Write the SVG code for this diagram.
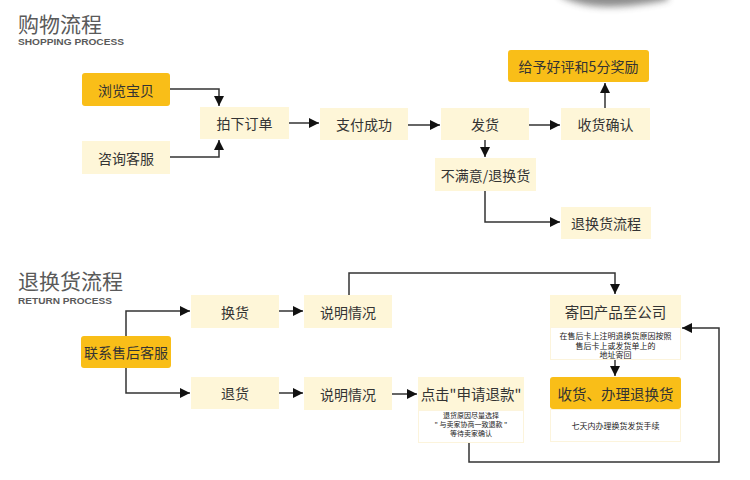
<svg xmlns="http://www.w3.org/2000/svg" width="750" height="480" viewBox="0 0 750 480">
<style>
.t{font-family:"Noto Sans CJK SC","Liberation Sans",sans-serif;fill:#333;text-anchor:middle;dominant-baseline:central}
.n{font-size:14px}
.b{font-size:14.5px}
.s{font-size:7px;fill:#222}
.h{font-family:"Noto Sans CJK SC",sans-serif;font-size:21px;fill:#5a5a5a}
.e{font-family:"Liberation Sans",Arial,sans-serif;font-size:9.2px;font-weight:bold;fill:#5a5a5a}
.o{fill:#F9BE18}
.y{fill:#FEF6D8}
.w{fill:#fff;stroke:#FCF4DC;stroke-width:1}
.c{fill:none;stroke:#333;stroke-width:1.5}
</style>
<defs>
<marker id="a" viewBox="0 0 10 10" refX="10" refY="5" markerWidth="10" markerHeight="10" markerUnits="userSpaceOnUse" orient="auto">
<path d="M0,0L10,5L0,10z" fill="#111"/>
</marker>
<filter id="bl" x="-30%" y="-150%" width="160%" height="400%"><feGaussianBlur stdDeviation="3.5"/></filter>
</defs>
<rect width="750" height="480" fill="#fff"/>
<path d="M560,-4C585,9 615,10 668,0L668,-10L560,-10z" fill="#808080" filter="url(#bl)" opacity="0.9"/>

<text class="h" x="18" y="32">购物流程</text>
<text class="e" x="18" y="44.5" textLength="106" lengthAdjust="spacingAndGlyphs">SHOPPING PROCESS</text>
<text class="h" x="18" y="289">退换货流程</text>
<text class="e" x="18" y="303.5" textLength="94" lengthAdjust="spacingAndGlyphs">RETURN PROCESS</text>

<g id="connectors">
<path class="c" d="M170,89H219V106" marker-end="url(#a)"/>
<path class="c" d="M170,157H219V140" marker-end="url(#a)"/>
<path class="c" d="M289,123H319" marker-end="url(#a)"/>
<path class="c" d="M408,125H440" marker-end="url(#a)"/>
<path class="c" d="M529,125H560" marker-end="url(#a)"/>
<path class="c" d="M605,108V83" marker-end="url(#a)"/>
<path class="c" d="M485,140V157" marker-end="url(#a)"/>
<path class="c" d="M485,191V222H560" marker-end="url(#a)"/>
<path class="c" d="M126,336V311H190" marker-end="url(#a)"/>
<path class="c" d="M126,368V393H190" marker-end="url(#a)"/>
<path class="c" d="M279,311H303" marker-end="url(#a)"/>
<path class="c" d="M279,393H303" marker-end="url(#a)"/>
<path class="c" d="M392,394H417" marker-end="url(#a)"/>
<path class="c" d="M349,295V273H615V294" marker-end="url(#a)"/>
<path class="c" d="M615,360V376" marker-end="url(#a)"/>
<path class="c" d="M469,442V462H719V328H682" marker-end="url(#a)"/>
</g>

<g id="n1"><rect class="o" x="82" y="73" width="88" height="33" rx="3"/><text class="t n" x="126" y="89.5">浏览宝贝</text></g>
<g id="n2"><rect class="y" x="82" y="141" width="88" height="33"/><text class="t n" x="126" y="157.5">咨询客服</text></g>
<g id="n3"><rect class="y" x="200" y="107" width="89" height="32"/><text class="t n" x="244.5" y="123">拍下订单</text></g>
<g id="n4"><rect class="y" x="320" y="108" width="88" height="32"/><text class="t n" x="364" y="124">支付成功</text></g>
<g id="n5"><rect class="y" x="441" y="108" width="88" height="32"/><text class="t n" x="485" y="124">发货</text></g>
<g id="n6"><rect class="y" x="561" y="108" width="89" height="32"/><text class="t n" x="605.5" y="124">收货确认</text></g>
<g id="n7"><rect class="o" x="508" y="50" width="141" height="32" rx="3"/><text class="t n" x="578.5" y="66">给予好评和5分奖励</text></g>
<g id="n8"><rect class="y" x="435" y="158" width="101" height="33"/><text class="t n" x="485.5" y="174.5">不满意/退换货</text></g>
<g id="n9"><rect class="y" x="561" y="207" width="90" height="32"/><text class="t n" x="606" y="223">退换货流程</text></g>

<g id="m1"><rect class="o" x="81" y="336" width="90" height="32" rx="3"/><text class="t n" x="126" y="352">联系售后客服</text></g>
<g id="m2"><rect class="y" x="191" y="295" width="88" height="33"/><text class="t n" x="235" y="311.5">换货</text></g>
<g id="m3"><rect class="y" x="191" y="377" width="88" height="32"/><text class="t n" x="235" y="393">退货</text></g>
<g id="m4"><rect class="y" x="304" y="295" width="88" height="33"/><text class="t n" x="348" y="311.5">说明情况</text></g>
<g id="m5"><rect class="y" x="304" y="377" width="88" height="33"/><text class="t n" x="348" y="393.5">说明情况</text></g>
<g id="m6"><rect class="w" x="418.5" y="410.5" width="105" height="32"/><rect class="y" x="418" y="377" width="106" height="33"/><text class="t b" x="471" y="393.5">点击"申请退款"</text>
<text class="t s" x="471" y="415">退货原因尽量选择</text><text class="t s" x="471" y="424">" 与卖家协商一致退款 "</text><text class="t s" x="471" y="433">等待卖家确认</text></g>
<g id="m7"><rect class="w" x="550.5" y="327.5" width="130" height="32"/><rect class="y" x="550" y="295" width="131" height="32"/><text class="t b" x="615.5" y="311">寄回产品至公司</text>
<text class="t s" x="615.5" y="335.5" style="font-size:8px">在售后卡上注明退换货原因按照</text><text class="t s" x="615.5" y="345" style="font-size:8px">售后卡上或发货单上的</text><text class="t s" x="615.5" y="354.5" style="font-size:8px">地址寄回</text></g>
<g id="m8"><rect class="w" x="550.5" y="409.5" width="130" height="32"/><rect class="o" x="550" y="377" width="131" height="32" rx="3"/><text class="t b" x="615.5" y="393">收货、办理退换货</text>
<text class="t s" x="615.5" y="425" style="font-size:8px">七天内办理换货发货手续</text></g>
</svg>
